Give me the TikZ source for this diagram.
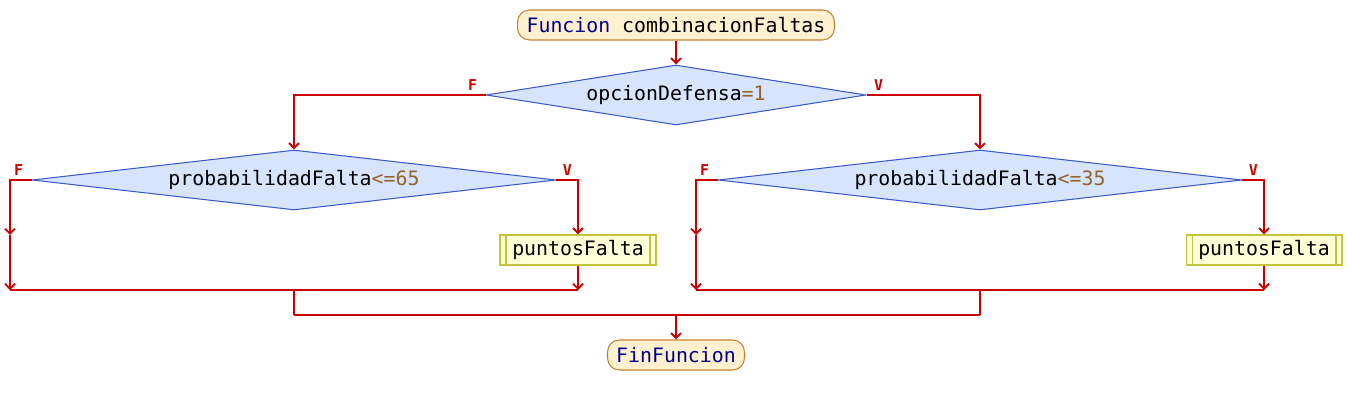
\documentclass[tikz,border=0pt]{standalone}
\usepackage{fontspec}
\setmonofont{DejaVu Sans Mono}
\usetikzlibrary{shapes.geometric,arrows.meta}
\definecolor{pslinea}{RGB}{204,0,0}
\definecolor{psdecfondo}{RGB}{214,228,252}
\definecolor{psdecborde}{RGB}{60,90,200}
\definecolor{psprofondo}{RGB}{255,255,216}
\definecolor{psproborde}{RGB}{196,196,60}
\definecolor{psterfondo}{RGB}{255,240,208}
\definecolor{psterborde}{RGB}{196,130,50}
\definecolor{pspalabra}{RGB}{0,0,140}
\definecolor{psnumero}{RGB}{150,100,40}
\newcommand{\psfuente}{\ttfamily\fontsize{11.3}{13}\selectfont}
\newcommand{\psetiq}{\ttfamily\bfseries\fontsize{8.5}{10}\selectfont}

\begin{document}
\begin{tikzpicture}[x=0.02cm, y=-0.02cm,
  linea/.style={draw=pslinea, line width=1.1pt},
  flecha/.style={linea, -{Straight Barb[length=0.1cm, width=0.2cm]}},
  terminal/.style={draw=psterborde, line width=0.6pt, fill=psterfondo, rounded corners=0.24cm, minimum height=0.6cm, inner sep=0pt, font=\psfuente},
  decision/.style={diamond, draw=psdecborde, line width=0.6pt, fill=psdecfondo, inner sep=0pt, aspect=8, minimum height=1.2cm, font=\psfuente},
  proceso/.style={draw=psproborde, line width=0.6pt, fill=psprofondo, minimum width=3.12cm, minimum height=0.6cm, inner sep=0pt, font=\psfuente,
    path picture={
      \draw[psproborde, line width=0.6pt] ([xshift=0.12cm]path picture bounding box.north west) -- ([xshift=0.12cm]path picture bounding box.south west);
      \draw[psproborde, line width=0.6pt] ([xshift=-0.12cm]path picture bounding box.north east) -- ([xshift=-0.12cm]path picture bounding box.south east);
    }},
  etq/.style={font=\psetiq, text=pslinea, inner sep=0pt},
]
\useasboundingbox (0,0) rectangle (1352,405);

% inicio y primera decision
\node[terminal, minimum width=6.34cm] (inicio) at (676,25) {\textcolor{pspalabra}{Funcion} combinacionFaltas};
\node[decision, minimum width=7.6cm] (cond) at (676,95) {opcionDefensa\textcolor{psnumero}{=1}};
\node[etq, anchor=south] (condF) at ([xshift=-0.26cm, yshift=0.08cm]cond.west) {F};
\node[etq, anchor=south] (condV) at ([xshift=0.24cm, yshift=0.08cm]cond.east) {V};
\draw[flecha] (inicio.south) -- (cond.north);

% las dos ramas (F: <=65, V: <=35)
\foreach \s/\cx/\lim in {a/294/65, b/980/35} {
  \node[decision, minimum width=10.48cm] (cond\s) at (\cx,180) {probabilidadFalta\textcolor{psnumero}{<=\lim}};
  \node[etq, anchor=south] (cond\s F) at ([xshift=-0.26cm, yshift=0.08cm]cond\s.west) {F};
  \node[etq, anchor=south] (cond\s V) at ([xshift=0.22cm, yshift=0.08cm]cond\s.east) {V};
  \node[proceso] (asig\s) at (\cx+284,250) {puntosFalta};
  \coordinate (flecha\s) at (\cx-284,235);
  \coordinate (unionI\s) at (\cx-284,290);
  \coordinate (unionD\s) at (\cx+284,290);
  \coordinate (union\s) at (\cx,290);
  \coordinate (baja\s) at (\cx,315);
  \draw[flecha] (cond\s.west) -| (flecha\s);
  \draw[flecha] (flecha\s) -- (unionI\s);
  \draw[flecha] (cond\s.east) -| (asig\s.north);
  \draw[flecha] (asig\s.south) -- (unionD\s);
  \draw[linea] (unionI\s) -- (unionD\s);
  \draw[linea] (union\s) -- (baja\s);
}
\draw[flecha] (cond.west) -| (conda.north);
\draw[flecha] (cond.east) -| (condb.north);

% cierre
\node[terminal, minimum width=2.74cm] (fin) at (676,355) {\textcolor{pspalabra}{FinFuncion}};
\coordinate (baja) at (676,315);
\draw[linea] (bajaa) -- (bajab);
\draw[flecha] (baja) -- (fin.north);
\end{tikzpicture}
\end{document}
